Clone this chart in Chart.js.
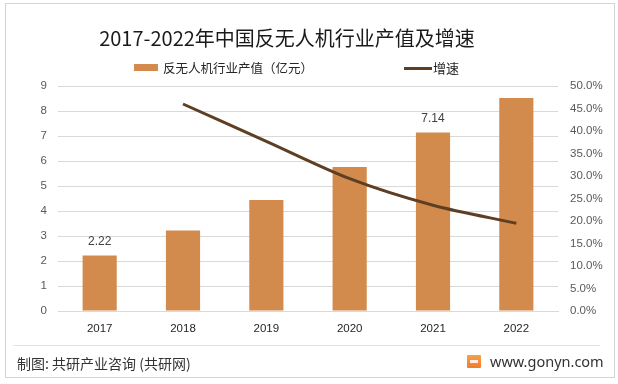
<!DOCTYPE html>
<html>
<head>
<meta charset="utf-8">
<script src="https://cdn.jsdelivr.net/npm/chart.js@4.4.0/dist/chart.umd.min.js"></script>
<style>
  html, body { margin: 0; padding: 0; background: #fff; }
  #wrap { position: relative; width: 618px; height: 384px; overflow: hidden; background: #fff; }
  #frame { position: absolute; left: 5px; top: 3px; width: 610px; height: 375px; border: 1px solid #d4d4d4; box-sizing: border-box; }
  canvas { position: absolute; left: 0; top: 0; }
  .txt { position: absolute; white-space: nowrap; font-family: "Noto Sans CJK SC", sans-serif; color: #111; }
  #title { left: 0; width: 574px; top: 24px; text-align: center; font-size: 20px; line-height: 28px; color: #1a1a1a; }
  #leg1box { position: absolute; left: 134px; top: 64px; width: 24px; height: 7px; background: #D38B4D; }
  #leg1 { left: 163px; top: 59px; font-size: 12.5px; line-height: 18px; color: #262626; }
  #leg2line { position: absolute; left: 404px; top: 67px; width: 28px; height: 3px; background: #5E3F23; }
  #leg2 { left: 433px; top: 59px; font-size: 13px; line-height: 18px; color: #262626; }
  #sep { position: absolute; left: 13px; top: 345px; width: 587px; height: 1px; background: #e3e3e3; }
  #src { left: 17px; top: 353px; font-size: 14px; line-height: 20px; color: #333; }
  #site { left: 490px; top: 351px; font-size: 14.5px; line-height: 20px; color: #333; font-family: "Noto Sans", "Open Sans", sans-serif; }
  #logo { position: absolute; left: 467px; top: 355px; width: 14px; height: 13px; background: linear-gradient(180deg, #f6a04d, #f27a2c); border-radius: 1px; }
  #logo:after { content: ""; position: absolute; left: 3px; top: 5px; width: 8px; height: 3px; background: #fff; opacity: 0.85; }
</style>
</head>
<body>
<div id="wrap">
  <div id="frame"></div>
  <canvas id="c" width="618" height="384"></canvas>
  <div class="txt" id="title">2017-2022年中国反无人机行业产值及增速</div>
  <div id="leg1box"></div>
  <div class="txt" id="leg1">反无人机行业产值（亿元）</div>
  <div id="leg2line"></div>
  <div class="txt" id="leg2">增速</div>
  <div id="sep"></div>
  <div class="txt" id="src">制图: 共研产业咨询 (共研网)</div>
  <div id="logo"></div>
  <div class="txt" id="site">www.gonyn.com</div>
</div>
<script>
const years = ['2017', '2018', '2019', '2020', '2021', '2022'];
const outputValue = [2.22, 3.22, 4.44, 5.76, 7.14, 8.52];
const growthRate = [null, 46.0, 37.7, 29.4, 23.5, 19.5];
const shownLabels = ['2.22', '', '', '', '7.14', ''];
const leftTicks = { min: 0, max: 9, step: 1 };
const rightTicks = { min: 0, max: 50, step: 5 };

const tickFont = { family: '"Liberation Sans", Arial, sans-serif', size: 11.5 };

const barLabelPlugin = {
  id: 'barLabels',
  afterDatasetsDraw(chart) {
    const ctx = chart.ctx;
    const meta = chart.getDatasetMeta(1);
    ctx.save();
    ctx.font = '12px "Liberation Sans", Arial, sans-serif';
    ctx.fillStyle = '#404040';
    ctx.textAlign = 'center';
    ctx.textBaseline = 'middle';
    meta.data.forEach((bar, i) => {
      if (shownLabels[i]) ctx.fillText(shownLabels[i], bar.x, bar.y - 14);
    });
    ctx.restore();
  }
};

new Chart(document.getElementById('c'), {
  data: {
    labels: years,
    datasets: [
      {
        type: 'line',
        label: '增速',
        data: growthRate,
        yAxisID: 'y1',
        borderColor: '#5E3F23',
        borderWidth: 3,
        tension: 0.3,
        pointRadius: 0,
        fill: false,
        order: 0
      },
      {
        type: 'bar',
        label: '反无人机行业产值（亿元）',
        data: outputValue,
        yAxisID: 'y',
        backgroundColor: '#D38B4D',
        barPercentage: 0.41,
        categoryPercentage: 1,
        order: 1
      }
    ]
  },
  options: {
    responsive: false,
    animation: false,
    layout: { padding: { left: 0, right: 0, top: 86, bottom: 43 } },
    plugins: { legend: { display: false }, title: { display: false }, tooltip: { enabled: false } },
    scales: {
      x: {
        grid: { display: false, drawTicks: false },
        border: { display: true, color: '#d9d9d9', width: 1 },
        ticks: { color: '#262626', font: tickFont, padding: 11, maxRotation: 0 },
        afterFit(s) { s.height = 30; }
      },
      y: {
        position: 'left',
        min: leftTicks.min, max: leftTicks.max,
        ticks: { stepSize: leftTicks.step, color: '#595959', font: tickFont, padding: 11 },
        grid: { color: '#d9d9d9', drawTicks: false, lineWidth: 1 },
        border: { display: false },
        afterFit(s) { s.width = 58; }
      },
      y1: {
        position: 'right',
        min: rightTicks.min, max: rightTicks.max,
        ticks: { stepSize: rightTicks.step, color: '#595959', font: tickFont, padding: 12,
                 callback: v => v.toFixed(1) + '%' },
        grid: { display: false, drawTicks: false },
        border: { display: false },
        afterFit(s) { s.width = 60; }
      }
    }
  },
  plugins: [barLabelPlugin]
});
</script>
</body>
</html>
